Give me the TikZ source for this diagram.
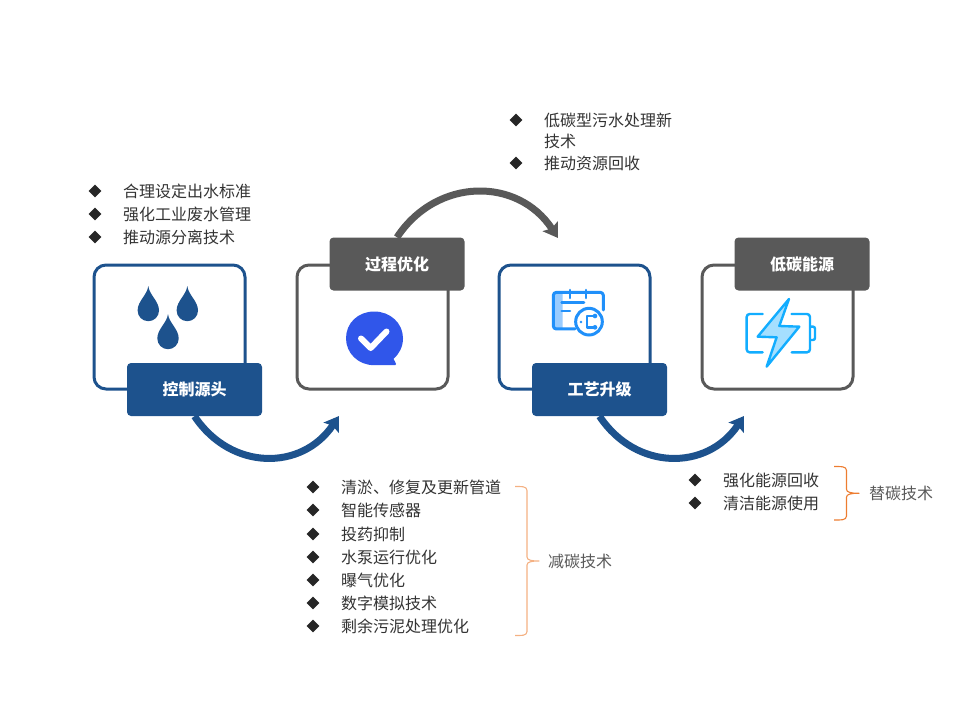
\documentclass[tikz,border=0pt]{standalone}
\usepackage{fontspec}
\setmainfont{Noto Sans CJK SC}
\usetikzlibrary{arrows.meta,shapes.geometric}
\definecolor{nblue}{HTML}{1D528D}
\definecolor{ngrey}{HTML}{595959}
\definecolor{ntext}{HTML}{333333}
\definecolor{ndark}{HTML}{262626}
\definecolor{checkblue}{HTML}{3056EA}
\definecolor{calblue}{HTML}{2090FA}
\definecolor{callight}{HTML}{99CCFF}
\definecolor{batblue}{HTML}{12ADFF}
\definecolor{batlight}{HTML}{A5DFFF}
\definecolor{bracelight}{HTML}{F4B183}
\definecolor{bracedark}{HTML}{ED7D31}
\tikzset{
  panel/.style={draw=#1,line width=3pt,rounded corners=12pt,fill=white,minimum width=151pt,minimum height=124pt,inner sep=0pt},
  tagbox/.style={fill=#1,rounded corners=4pt,text=white,minimum width=135pt,minimum height=53pt,inner sep=0pt,font=\fontsize{16}{16}\selectfont\bfseries},
  item/.style={anchor=west,inner sep=0pt,text=ntext,font=\fontsize{16}{16}\selectfont},
  side/.style={anchor=west,inner sep=0pt,text=ngrey,font=\fontsize{16}{16}\selectfont},
  bullet/.style={diamond,fill=ndark,inner sep=0pt,minimum width=13pt,minimum height=13pt,aspect=1},
  flow/.style={draw=#1,line width=7pt,-{Stealth[length=14pt,width=18pt,inset=2.5pt]}}
}
\newcommand{\rowitem}[5]{%
  \node[bullet] (b#1) at (#2,#4) {};
  \node[item] (t#1) at (#3,#4) {#5};
}
\newcommand{\dropat}[2]{%
  \fill[nblue] (#1,#2) .. controls (#1+1,#2+9) and (#1+10.7,#2+15) .. (#1+10.7,#2+24.5)
    .. controls (#1+10.7,#2+30.5) and (#1+5.9,#2+35.2) .. (#1,#2+35.2)
    .. controls (#1-5.9,#2+35.2) and (#1-10.7,#2+30.5) .. (#1-10.7,#2+24.5)
    .. controls (#1-10.7,#2+15) and (#1-1,#2+9) .. (#1,#2) -- cycle;
}
\newcommand{\bracepath}[6]{%
  \coordinate (#1top) at (#2,#5);
  \coordinate (#1tip) at (#4,{(#5+#6)/2});
  \coordinate (#1bot) at (#2,#6);
  \draw[line width=1.1pt,line join=round] (#1top) .. controls (#3-6,#5) and (#3,#5-0.5) .. (#3,#5+4)
    -- (#3,{(#5+#6)/2-4}) .. controls (#3,{(#5+#6)/2-1}) and (#3+4,{(#5+#6)/2}) .. (#1tip)
    .. controls (#3+4,{(#5+#6)/2}) and (#3,{(#5+#6)/2+1}) .. (#3,{(#5+#6)/2+4})
    -- (#3,#6-4) .. controls (#3,#6+0.5) and (#3-6,#6) .. (#1bot);
}
\begin{document}
\begin{tikzpicture}[x=1pt,y=-1pt]
\useasboundingbox (0,0) rectangle (960,720);

% panels
\node[panel=nblue] (p1) at (169.5,327) {};
\node[panel=ngrey] (p2) at (372.5,327) {};
\node[panel=nblue] (p3) at (574.5,327) {};
\node[panel=ngrey] (p4) at (777.5,327) {};

% tags and arrows
\node[tagbox=nblue] (l1) at (194.5,389.5) {控制源头};
\node[tagbox=ngrey] (l2) at (397,264) {过程优化};
\node[tagbox=nblue] (l3) at (599.5,389.5) {工艺升级};
\node[tagbox=ngrey] (l4) at (802,264) {低碳能源};
\coordinate (e1) at (339,416);
\coordinate (e2) at (558,238);
\coordinate (e3) at (744,416);
\draw[flow=nblue] (l1.south) .. controls (231,471) and (302,471) .. (e1);
\draw[flow=ngrey] (l2.north) .. controls (437,177) and (518,177) .. (e2);
\draw[flow=nblue] (l3.south) .. controls (636,471) and (707,471) .. (e3);

% drops
\dropat{148.3}{286}
\dropat{187.3}{286}
\dropat{168}{314}

% check bubble
\fill[checkblue] (374.3,311.5) .. controls (390,311.5) and (403,323) .. (403,338.3)
  .. controls (403,347) and (399,354) .. (393.5,359) .. controls (394,361) and (396,362) .. (396,364)
  .. controls (396,365) and (395,365.2) .. (394,365.2) -- (374.3,365.2)
  .. controls (358,365.2) and (346,353) .. (346,338.3) .. controls (346,323) and (358,311.5) .. (374.3,311.5) -- cycle;
\draw[white,line width=6pt,line cap=round,line join=round] (361,338.5) -- (370.7,348) -- (386.5,331.5);

% calendar icon
\begin{scope}[shift={(490pt,-230pt)},x=0.3333pt,y=-0.3333pt]
  \fill[callight] (190,190) -- (218,190) -- (218,296) -- (200,296) -- (190,286) -- cycle;
  \draw[calblue,line width=3pt,line cap=round,line join=round,rounded corners=3pt]
    (255,297) -- (190,297) -- (190,187) -- (340,187) -- (340,240);
  \draw[calblue,line width=2.6pt,line cap=round] (240,180) -- (240,204) (288,180) -- (288,204)
    (215,218) -- (282,218) (215,243) -- (240,243);
  \draw[calblue,line width=3pt] (297,275) circle[radius=40];
  \draw[calblue,line width=2.4pt,line join=round] (315,258) -- (291,258) -- (291,292) -- (315,292);
  \fill[calblue] (315,258) circle[radius=7] (315,292) circle[radius=7] (273,276) circle[radius=4];
\end{scope}

% battery icon
\begin{scope}[shift={(490pt,-230pt)},x=0.3333pt,y=-0.3333pt]
  \draw[batblue,line width=2.4pt,rounded corners=3pt,line cap=round] (818,252) -- (770,252) -- (770,367) -- (818,367);
  \draw[batblue,line width=2.4pt,rounded corners=3pt,line cap=round] (905,252) -- (960,252) -- (960,367) -- (905,367);
  \draw[batblue,line width=2.4pt,rounded corners=2pt] (960,290) -- (975,290) -- (975,330) -- (960,330);
  \draw[batblue,fill=batlight,line width=2.4pt,line join=round] (897,207) -- (868,288) -- (928,290) -- (830,410) -- (860,322) -- (803,320) -- cycle;
\end{scope}

% lists
\rowitem{a1}{95}{123}{191}{合理设定出水标准}
\rowitem{a2}{95}{123}{214}{强化工业废水管理}
\rowitem{a3}{95}{123}{237}{推动源分离技术}

\rowitem{c1}{516}{544}{120}{低碳型污水处理新}
\node[item] (c1b) at (544,141) {技术};
\rowitem{c2}{516}{544}{163}{推动资源回收}

\rowitem{d1}{313}{341}{487}{清淤、修复及更新管道}
\rowitem{d2}{313}{341}{510}{智能传感器}
\rowitem{d3}{313}{341}{534}{投药抑制}
\rowitem{d4}{313}{341}{557}{水泵运行优化}
\rowitem{d5}{313}{341}{580}{曝气优化}
\rowitem{d6}{313}{341}{603}{数字模拟技术}
\rowitem{d7}{313}{341}{626}{剩余污泥处理优化}

\rowitem{f1}{695}{723}{480}{强化能源回收}
\rowitem{f2}{695}{723}{503}{清洁能源使用}

% braces
\begin{scope}[draw=bracelight]
\bracepath{br}{515}{527}{539}{486.5}{635.5}
\end{scope}
\begin{scope}[draw=bracedark]
\bracepath{bs}{834}{846.5}{859}{466.5}{520}
\end{scope}
\node[side] (s1) at (548,561.5) {减碳技术};
\node[side] (s2) at (869,493.5) {替碳技术};
\end{tikzpicture}
\end{document}
